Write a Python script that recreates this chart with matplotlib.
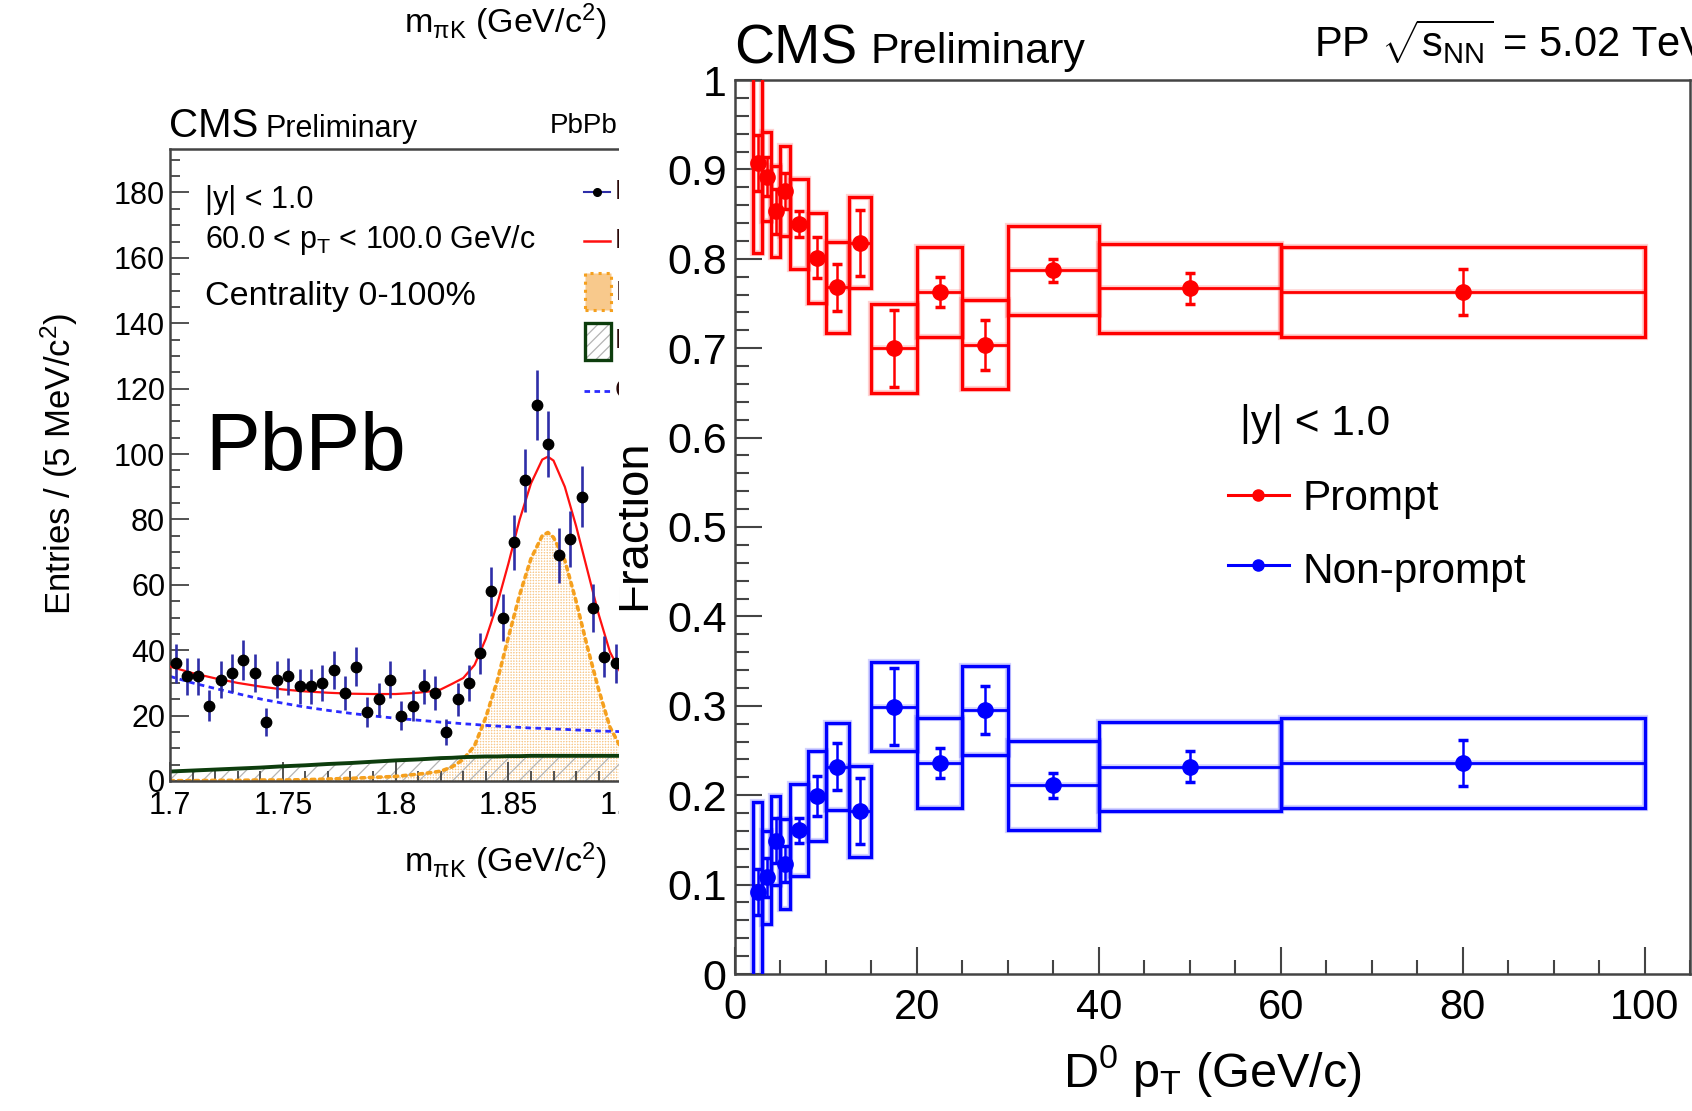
import numpy as np
import matplotlib
matplotlib.use("Agg")
import matplotlib.pyplot as plt
from matplotlib.patches import Rectangle
from matplotlib.ticker import MultipleLocator, FuncFormatter

plt.rcParams['font.family'] = ['Liberation Sans', 'DejaVu Sans']
plt.rcParams['mathtext.fontset'] = 'custom'
plt.rcParams['mathtext.rm'] = 'Liberation Sans'
plt.rcParams['mathtext.it'] = 'Liberation Sans'
plt.rcParams['mathtext.sf'] = 'Liberation Sans'
plt.rcParams['mathtext.bf'] = 'Liberation Sans:bold'
plt.rcParams['hatch.linewidth'] = 0.9

# ---- left panel: PbPb invariant mass (cropped) ----
mass = [1.7025, 1.7075, 1.7125, 1.7175, 1.7225, 1.7275, 1.7325, 1.7375, 1.7425, 1.7475,
        1.7525, 1.7575, 1.7625, 1.7675, 1.7725, 1.7775, 1.7825, 1.7875, 1.7925, 1.7975,
        1.8025, 1.8075, 1.8125, 1.8175, 1.8225, 1.8275, 1.8325, 1.8375, 1.8425, 1.8475,
        1.8525, 1.8575, 1.8625, 1.8675, 1.8725, 1.8775, 1.8825, 1.8875, 1.8925, 1.8975]
counts = [36, 32, 32, 23, 31, 33, 37, 33, 18, 31, 32, 29, 29, 30, 34, 27, 35, 21, 25, 31,
          20, 23, 29, 27, 15, 25, 30, 39, 58, 50, 73, 92, 115, 103, 69, 74, 87, 53, 38, 36]
count_err = [6.0, 5.7, 5.7, 4.8, 5.6, 5.7, 6.1, 5.7, 4.2, 5.6, 5.7, 5.4, 5.4, 5.5, 5.8, 5.2,
             5.9, 4.6, 5.0, 5.6, 4.5, 4.8, 5.4, 5.2, 3.9, 5.0, 5.5, 6.2, 7.6, 7.1, 8.5, 9.6,
             10.7, 10.1, 8.3, 8.6, 9.3, 7.3, 6.2, 6.0]

fit_m = [1.70, 1.71, 1.72, 1.73, 1.74, 1.75, 1.76, 1.77, 1.78, 1.79, 1.80, 1.81, 1.815, 1.82,
         1.825, 1.83, 1.835, 1.84, 1.845, 1.85, 1.855, 1.86, 1.865, 1.8675, 1.87, 1.875, 1.88,
         1.885, 1.89, 1.895, 1.90]
fit_total = [35.0, 33.0, 31.4, 30.0, 28.9, 28.0, 27.4, 27.0, 26.7, 26.6, 26.6, 27.0, 27.4, 28.0,
             29.7, 31.5, 35.5, 43.5, 54.0, 66.5, 80.0, 91.0, 98.3, 99.2, 98.0, 90.0, 78.0,
             64.5, 51.0, 39.5, 32.8]
fit_comb = [32.0, 30.0, 28.3, 26.7, 25.1, 23.8, 22.6, 21.6, 20.7, 19.9, 19.2, 18.6, 18.3, 18.0,
            17.8, 17.5, 17.3, 17.0, 16.8, 16.6, 16.4, 16.2, 16.1, 16.0, 15.9, 15.8, 15.6,
            15.5, 15.3, 15.2, 15.1]
fit_swap = [2.9, 3.2, 3.5, 3.8, 4.1, 4.5, 4.8, 5.2, 5.5, 5.9, 6.3, 6.6, 6.8, 7.0, 7.1, 7.3,
            7.4, 7.5, 7.5, 7.6, 7.6, 7.7, 7.7, 7.7, 7.7, 7.7, 7.7, 7.7, 7.7, 7.7, 7.7]
fit_signal = [0.1, 0.1, 0.2, 0.2, 0.3, 0.3, 0.4, 0.6, 0.8, 1.1, 1.4, 2.1, 2.5, 3.0, 4.3, 6.6,
              10.8, 19.5, 30.5, 44.0, 57.0, 68.0, 75.0, 76.0, 74.5, 67.5, 55.0, 41.0, 28.0,
              16.5, 10.0]
legend_left = ['Data', 'Fit', r'D$^{0}$+$\bar{\mathrm{D}}^{0}$ Signal', 'K-\u03c0 swapped', 'Combinatorial']

# ---- right panel: prompt / non-prompt fraction ----
pt_lo = [2, 3, 4, 5, 6, 8, 10, 12.5, 15, 20, 25, 30, 40, 60]
pt_hi = [3, 4, 5, 6, 8, 10, 12.5, 15, 20, 25, 30, 40, 60, 100]
prompt = [0.907, 0.892, 0.853, 0.876, 0.839, 0.801, 0.768, 0.818, 0.700, 0.763, 0.704, 0.787, 0.767, 0.763]
prompt_stat = [0.031, 0.022, 0.025, 0.020, 0.015, 0.023, 0.026, 0.037, 0.043, 0.017, 0.028, 0.013, 0.017, 0.026]
prompt_syst = [0.100, 0.050, 0.051, 0.050, 0.050, 0.050, 0.051, 0.051, 0.050, 0.050, 0.050, 0.050, 0.050, 0.050]
nonprompt = [0.092, 0.108, 0.149, 0.123, 0.161, 0.199, 0.232, 0.182, 0.299, 0.236, 0.295, 0.211, 0.232, 0.236]
nonprompt_stat = [0.026, 0.022, 0.025, 0.020, 0.014, 0.022, 0.026, 0.037, 0.043, 0.017, 0.027, 0.014, 0.017, 0.026]
nonprompt_syst = [0.100, 0.052, 0.050, 0.050, 0.051, 0.050, 0.049, 0.051, 0.050, 0.050, 0.050, 0.050, 0.050, 0.050]

W, H = 1692, 1111


def fx(x):
    return x / W


def fy(y):
    return 1 - y / H


fig = plt.figure(figsize=(W / 100, H / 100), dpi=100)
fig.patch.set_facecolor('white')

# ================= left panel =================
ax_l = fig.add_axes([fx(170), fy(781), fx(734) - fx(170), fy(149) - fy(781)], zorder=0)
ax_l.set_xlim(1.7, 1.95)
ax_l.set_ylim(0, 193.3)

ax_l.fill_between(fit_m, 0, fit_signal, facecolor='#f8c98c', edgecolor='none', zorder=1)
ax_l.fill_between(fit_m, 0, fit_signal, facecolor='none', edgecolor='white', hatch='++++++',
                  linewidth=0, zorder=1.1)
ax_l.fill_between(fit_m, 0, fit_swap, facecolor='none', edgecolor='#b4b4b4', hatch='//',
                  linewidth=0, zorder=1.2)
ax_l.plot(fit_m, fit_signal, color='#f5a01e', lw=2.6, linestyle=(0, (1.0, 1.3)),
          dash_capstyle='round', zorder=2)
ax_l.plot(fit_m, fit_swap, color='#0d3d0d', lw=2.8, zorder=2)
ax_l.plot(fit_m, fit_comb, color='#2a2aff', lw=2.0, linestyle=(0, (2.0, 1.6)), zorder=2)
ax_l.plot(fit_m, fit_total, color='#ff1010', lw=1.6, zorder=3)
ax_l.errorbar(mass, counts, yerr=count_err, fmt='o', color='black', ms=7.5,
              ecolor='#2e2ea8', elinewidth=1.9, capsize=0, zorder=5)

ax_l.xaxis.set_major_locator(MultipleLocator(0.05))
ax_l.xaxis.set_minor_locator(MultipleLocator(0.01))
ax_l.yaxis.set_major_locator(MultipleLocator(20))
ax_l.yaxis.set_minor_locator(MultipleLocator(5))
ax_l.xaxis.set_major_formatter(FuncFormatter(lambda v, _: f"{v:g}"))
ax_l.tick_params(which='both', direction='in', top=False, right=False,
                 colors='#444444', labelcolor='black', labelsize=22, width=1.3)
ax_l.tick_params(which='major', length=13.5)
ax_l.tick_params(which='minor', length=7)
ax_l.tick_params(axis='x', pad=7)
ax_l.tick_params(axis='y', pad=3.5)
for s in ax_l.spines.values():
    s.set_color('#444444')
    s.set_linewidth(1.8)

# left legend (cut by the right panel)
tf = fig.transFigure
ax_l.plot([fx(584), fx(610)], [fy(192)] * 2, transform=tf, color='#2e2ea8', lw=1.5, clip_on=False)
ax_l.plot([fx(597)], [fy(192)], transform=tf, marker='o', color='black', ms=5.5, clip_on=False)
ax_l.plot([fx(584), fx(610)], [fy(241)] * 2, transform=tf, color='#ff1010', lw=1.8, clip_on=False)
ax_l.add_patch(Rectangle((fx(585), fy(310)), fx(611) - fx(585), fy(273) - fy(310), transform=tf,
                         facecolor='#f8c98c', edgecolor='#f5a01e', lw=2.2, linestyle=':',
                         clip_on=False))
ax_l.add_patch(Rectangle((fx(585), fy(360)), fx(611) - fx(585), fy(323) - fy(360), transform=tf,
                         facecolor='white', edgecolor='#b4b4b4', hatch='///', lw=0, clip_on=False))
ax_l.add_patch(Rectangle((fx(585), fy(360)), fx(611) - fx(585), fy(323) - fy(360), transform=tf,
                         facecolor='none', edgecolor='#0d3d0d', lw=2.4, clip_on=False))
ax_l.plot([fx(584), fx(610)], [fy(391)] * 2, transform=tf, color='#2a2aff', lw=2.0,
          linestyle=(0, (2.0, 1.6)), clip_on=False)
for lab, yy in zip(legend_left, [192, 241, 292, 341, 391]):
    ax_l.text(fx(615), fy(yy), lab, transform=tf, fontsize=20, va='center', color='#2a0a0a',
              clip_on=False)

fig.text(fx(169), fy(137), 'CMS', fontsize=29, va='baseline')
fig.text(fx(265), fy(137), 'Preliminary', fontsize=22, va='baseline')
fig.text(fx(617), fy(133), 'PbPb', fontsize=20, ha='right', va='baseline')
fig.text(fx(205), fy(208), '|y| < 1.0', fontsize=22, va='baseline')
fig.text(fx(205), fy(248), r'60.0 < p$_{\mathrm{T}}$ < 100.0 GeV/c', fontsize=22, va='baseline')
fig.text(fx(205), fy(305), 'Centrality 0-100%', fontsize=24.5, va='baseline')
fig.text(fx(205), fy(470), 'PbPb', fontsize=59, va='baseline')
fig.text(fx(59), fy(464), r'Entries / (5 MeV/c$^{2}$)', rotation=90, fontsize=25,
         ha='center', va='center')
fig.text(fx(607), fy(33), r'm$_{\pi\mathrm{K}}$ (GeV/c$^{2}$)', fontsize=24.5, ha='right', va='baseline')
fig.text(fx(607), fy(872), r'm$_{\pi\mathrm{K}}$ (GeV/c$^{2}$)', fontsize=24.5, ha='right', va='baseline')

# ================= white pad of the right panel =================
pad = fig.add_axes([fx(619), 0, 1 - fx(619), 1], zorder=1)
pad.set_axis_off()
pad.add_patch(Rectangle((0, 0), 1, 1, transform=pad.transAxes, facecolor='white', edgecolor='none'))
pad.text(fx(655), fy(525), 'Fraction', transform=tf, rotation=90, fontsize=34,
         ha='right', va='center', clip_on=True)

# ================= right panel =================
ax_r = fig.add_axes([fx(735), fy(974), fx(1690) - fx(735), fy(80) - fy(974)], zorder=2)
ax_r.set_facecolor('none')
ax_r.set_xlim(0, 105)
ax_r.set_ylim(0, 1)

centers = [(a + b) / 2 for a, b in zip(pt_lo, pt_hi)]
series = [(prompt, prompt_stat, prompt_syst, '#ff0000', '#ff8080'),
          (nonprompt, nonprompt_stat, nonprompt_syst, '#0000ff', '#8080ff')]
for vals, stat, syst, col, halo in series:
    for lo, hi, v, s in zip(pt_lo, pt_hi, vals, syst):
        ax_r.add_patch(Rectangle((lo, v - s), hi - lo, 2 * s, fill=False, edgecolor=halo,
                                 lw=4.5, alpha=0.35, zorder=2))
        ax_r.add_patch(Rectangle((lo, v - s), hi - lo, 2 * s, fill=False, edgecolor=col,
                                 lw=2.4, zorder=3))
    ax_r.hlines(vals, pt_lo, pt_hi, colors=halo, lw=4.0, alpha=0.35, zorder=2)
    ax_r.hlines(vals, pt_lo, pt_hi, colors=col, lw=2.0, zorder=3)
    ax_r.errorbar(centers, vals, yerr=stat, fmt='o', color=col, ms=11, capsize=3.5,
                  elinewidth=1.8, capthick=2.5, zorder=4)

ax_r.xaxis.set_major_locator(MultipleLocator(20))
ax_r.xaxis.set_minor_locator(MultipleLocator(5))
ax_r.yaxis.set_major_locator(MultipleLocator(0.1))
ax_r.yaxis.set_minor_locator(MultipleLocator(0.02))
ax_r.xaxis.set_major_formatter(FuncFormatter(lambda v, _: f"{v:g}"))
ax_r.yaxis.set_major_formatter(FuncFormatter(lambda v, _: f"{v:.10g}" if abs(v) > 1e-9 else "0"))
ax_r.tick_params(which='both', direction='in', top=False, right=False,
                 colors='#444444', labelcolor='black', labelsize=31, width=1.5)
ax_r.tick_params(axis='x', labelsize=30)
ax_r.tick_params(which='major', length=19.5)
ax_r.tick_params(which='minor', length=10)
ax_r.tick_params(axis='x', pad=10)
ax_r.tick_params(axis='y', pad=6)
for s in ax_r.spines.values():
    s.set_color('#444444')
    s.set_linewidth(1.8)

fig.text(fx(734), fy(63), 'CMS', fontsize=40, va='baseline')
fig.text(fx(870), fy(63), 'Preliminary', fontsize=31, va='baseline')
fig.text(fx(1314), fy(57), r'PP $\sqrt{\mathrm{s}_{\mathrm{NN}}}$ = 5.02 TeV', fontsize=30, va='baseline')
fig.text(fx(1212), fy(1087), r'D$^{0}$ p$_{\mathrm{T}}$ (GeV/c)', fontsize=35, ha='center', va='baseline')

# right legend
fig.text(fx(1240), fy(435), '|y| < 1.0', fontsize=30.5, va='baseline')
for yy, ty, col, lab in [(495, 510, '#ff0000', 'Prompt'), (565, 583, '#0000ff', 'Non-prompt')]:
    ax_r.plot([fx(1228), fx(1289)], [fy(yy)] * 2, transform=tf, color=col, lw=2.2, clip_on=False)
    ax_r.plot([fx(1258)], [fy(yy)], transform=tf, marker='o', color=col, ms=8, clip_on=False)
    fig.text(fx(1302), fy(ty), lab, fontsize=30.5, va='baseline')

fig.savefig('out.png', dpi=100)
